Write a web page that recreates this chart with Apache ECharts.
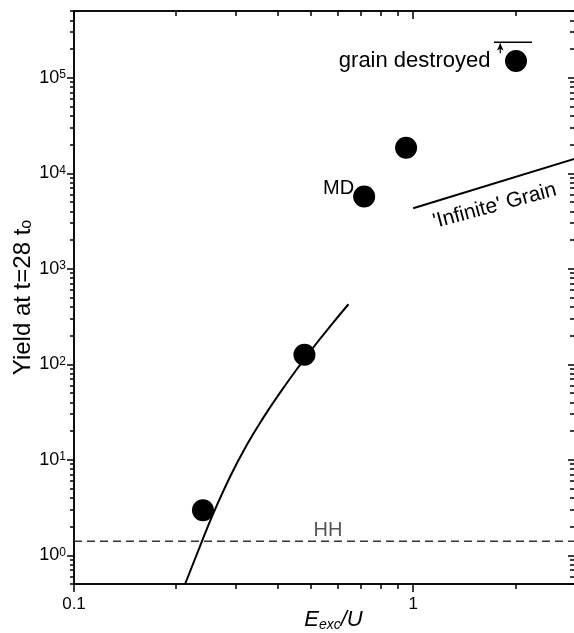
<!DOCTYPE html>
<html>
<head>
<meta charset="utf-8">
<script src="https://cdn.jsdelivr.net/npm/echarts@6/dist/echarts.min.js"></script>
<style>
html, body { margin: 0; padding: 0; background: #fff; }
#main { width: 574px; height: 633px; }
</style>
</head>
<body>
<div id="main"></div>
<script>
// yield at t = 28 t0 vs E_exc/U
var pointX = [0.240, 0.478, 0.717, 0.953, 2.01]
var pointY = [2.96, 126, 5700, 18500, 150000]

// fitted curve
var curveX = [0.2126, 0.2380, 0.2576, 0.2885, 0.3231, 0.3617, 0.4052, 0.4588, 0.5081, 0.5691, 0.6443]
var curveY = [0.5, 1.381, 2.74, 6.64, 14.25, 27.6, 50.4, 93.5, 150.7, 249.4, 425]

// HH level (dashed)
var hhLevel = 1.4
// 'Infinite' grain line
var grainX = [1.0, 3.0]
var grainY = [4300, 14200]
// grain destroyed: upper bar + arrow
var limitX = [1.73, 2.24]
var limitY = 235000
var arrowX = 1.806
var arrowY = [181000, 228000]

// text notes, anchored in data space
var noteText = ['grain destroyed', 'MD', 'HH', "'Infinite' Grain"]
var noteX = [1.69, 0.67, 0.561, 1.74]
var noteY = [150000, 6960, 1.83, 4550]

// ticks
var xMajor = [0.1, 1]
var xMinor = [0.2, 0.3, 0.4, 0.5, 0.6, 0.7, 0.8, 0.9, 2, 3]
var yMajor = [1, 10, 100, 1000, 10000, 100000]
var yMinor = [0.5, 0.6, 0.7, 0.8, 0.9]
for (var k = 0; k <= 5; k++) {
    for (var m = 2; m <= 9; m++) {
        var v = m * Math.pow(10, k)
        if (v <= 500000) yMinor.push(v)
    }
}

var font = "'Liberation Sans', Arial, Helvetica, sans-serif"

function zip(xs, ys) {
    return xs.map(function (x, i) { return [x, ys[i]] })
}

function xAxisOf(pos, ticks, len, inside, labels, extra) {
    var ax = {
        type: 'log', logBase: 10, min: 0.1, max: 3, position: pos,
        axisLine: { show: true, lineStyle: { color: '#000', width: 1.5 } },
        axisTick: { show: true, customValues: ticks, length: len, inside: inside, lineStyle: { color: '#000', width: 1.5 } },
        axisLabel: { show: false },
        splitLine: { show: false }
    }
    if (labels) {
        ax.axisLabel = {
            show: true, customValues: labels, margin: 12,
            color: '#000', fontSize: 17, fontFamily: font,
            formatter: function (v) { return String(Number(v.toPrecision(3))) }
        }
    }
    return Object.assign(ax, extra || {})
}

function yAxisOf(pos, ticks, len, inside, labels, extra) {
    var ax = {
        type: 'log', logBase: 10, min: 0.5, max: 500000, position: pos,
        axisLine: { show: true, lineStyle: { color: '#000', width: 1.5 } },
        axisTick: { show: true, customValues: ticks, length: len, inside: inside, lineStyle: { color: '#000', width: 1.5 } },
        axisLabel: { show: false },
        splitLine: { show: false }
    }
    if (labels) {
        ax.axisLabel = {
            show: true, customValues: labels, margin: 8,
            color: '#000', fontFamily: font,
            formatter: function (v) { return '{b|10}{s|' + Math.round(Math.log10(v)) + '}' },
            rich: {
                b: { fontSize: 18, fontFamily: font, color: '#000' },
                s: { fontSize: 12, fontFamily: font, color: '#000', verticalAlign: 'top' }
            }
        }
    }
    return Object.assign(ax, extra || {})
}

var chart = echarts.init(document.getElementById('main'))

var option = {
    animation: false,
    backgroundColor: '#fff',
    grid: { left: 74, top: 11, width: 501, height: 573, containLabel: false, outerBoundsMode: 'none' },
    xAxis: [
        xAxisOf('bottom', xMajor, 8, false, xMajor, {
            name: 'E{sub|exc}/U',
            nameLocation: 'middle',
            nameGap: 24,
            nameMoveOverlap: false,
            nameTextStyle: {
                fontSize: 22, fontStyle: 'italic', fontFamily: font, color: '#000', padding: [0, 0, 0, 18],
                rich: { sub: { fontSize: 14, fontStyle: 'italic', fontFamily: font, color: '#000', verticalAlign: 'bottom', padding: [10, 0, 0, 0] } }
            }
        }),
        xAxisOf('bottom', xMinor, 5, false, null),
        xAxisOf('top', xMajor, 8, true, null),
        xAxisOf('top', xMinor, 5, true, null)
    ],
    yAxis: [
        yAxisOf('left', yMajor, 7, false, yMajor, {
            name: 'Yield at t=28 t{sub|o}',
            nameLocation: 'middle',
            nameRotate: 90,
            nameGap: 39,
            nameMoveOverlap: false,
            nameTextStyle: {
                fontSize: 24, fontFamily: font, color: '#000',
                rich: { sub: { fontSize: 16, fontFamily: font, color: '#000', verticalAlign: 'bottom', padding: [6, 0, 0, 0] } }
            }
        }),
        yAxisOf('left', yMinor, 4, false, null),
        yAxisOf('right', yMajor, 7, true, null),
        yAxisOf('right', yMinor, 5, true, null)
    ],
    series: [
        {
            name: 'curve', type: 'line', smooth: true, showSymbol: false, symbol: 'none',
            data: zip(curveX, curveY),
            lineStyle: { color: '#000', width: 2 }
        },
        {
            name: 'HH', type: 'line', showSymbol: false, symbol: 'none',
            data: [[0.1, hhLevel], [3, hhLevel]],
            lineStyle: { color: '#333', width: 1.5, type: [8, 5] }
        },
        {
            name: 'infinite grain', type: 'line', showSymbol: false, symbol: 'none',
            data: zip(grainX, grainY),
            lineStyle: { color: '#000', width: 2 }
        },
        {
            name: 'limit', type: 'line', showSymbol: false, symbol: 'none',
            data: [[limitX[0], limitY], [limitX[1], limitY]],
            lineStyle: { color: '#000', width: 1.5 }
        },
        {
            name: 'arrow', type: 'line', showSymbol: true,
            symbol: function (val, p) { return p.dataIndex === 1 ? 'arrow' : 'none' },
            symbolSize: [5, 7],
            itemStyle: { color: '#000' },
            data: [[arrowX, arrowY[0]], [arrowX, arrowY[1]]],
            lineStyle: { color: '#000', width: 1.2 }
        },
        {
            name: 'yield', type: 'scatter', symbol: 'circle', symbolSize: 22,
            data: zip(pointX, pointY),
            itemStyle: { color: '#000', opacity: 1 },
            z: 5
        },
        {
            name: 'notes', type: 'scatter', symbolSize: 0, silent: true,
            itemStyle: { opacity: 1 },
            data: noteText.map(function (t, i) {
                var lab = { show: true, formatter: t, fontSize: 22, fontFamily: font, color: '#000', position: 'left', distance: 0 }
                if (i === 1) { lab.fontSize = 20 }
                if (i === 2) { lab.position = 'inside'; lab.fontSize = 20; lab.color = '#555' }
                if (i === 3) { lab.position = 'inside'; lab.fontSize = 21; lab.rotate = 15 }
                return { value: [noteX[i], noteY[i]], label: lab }
            })
        }
    ]
}

chart.setOption(option)
</script>
</body>
</html>
